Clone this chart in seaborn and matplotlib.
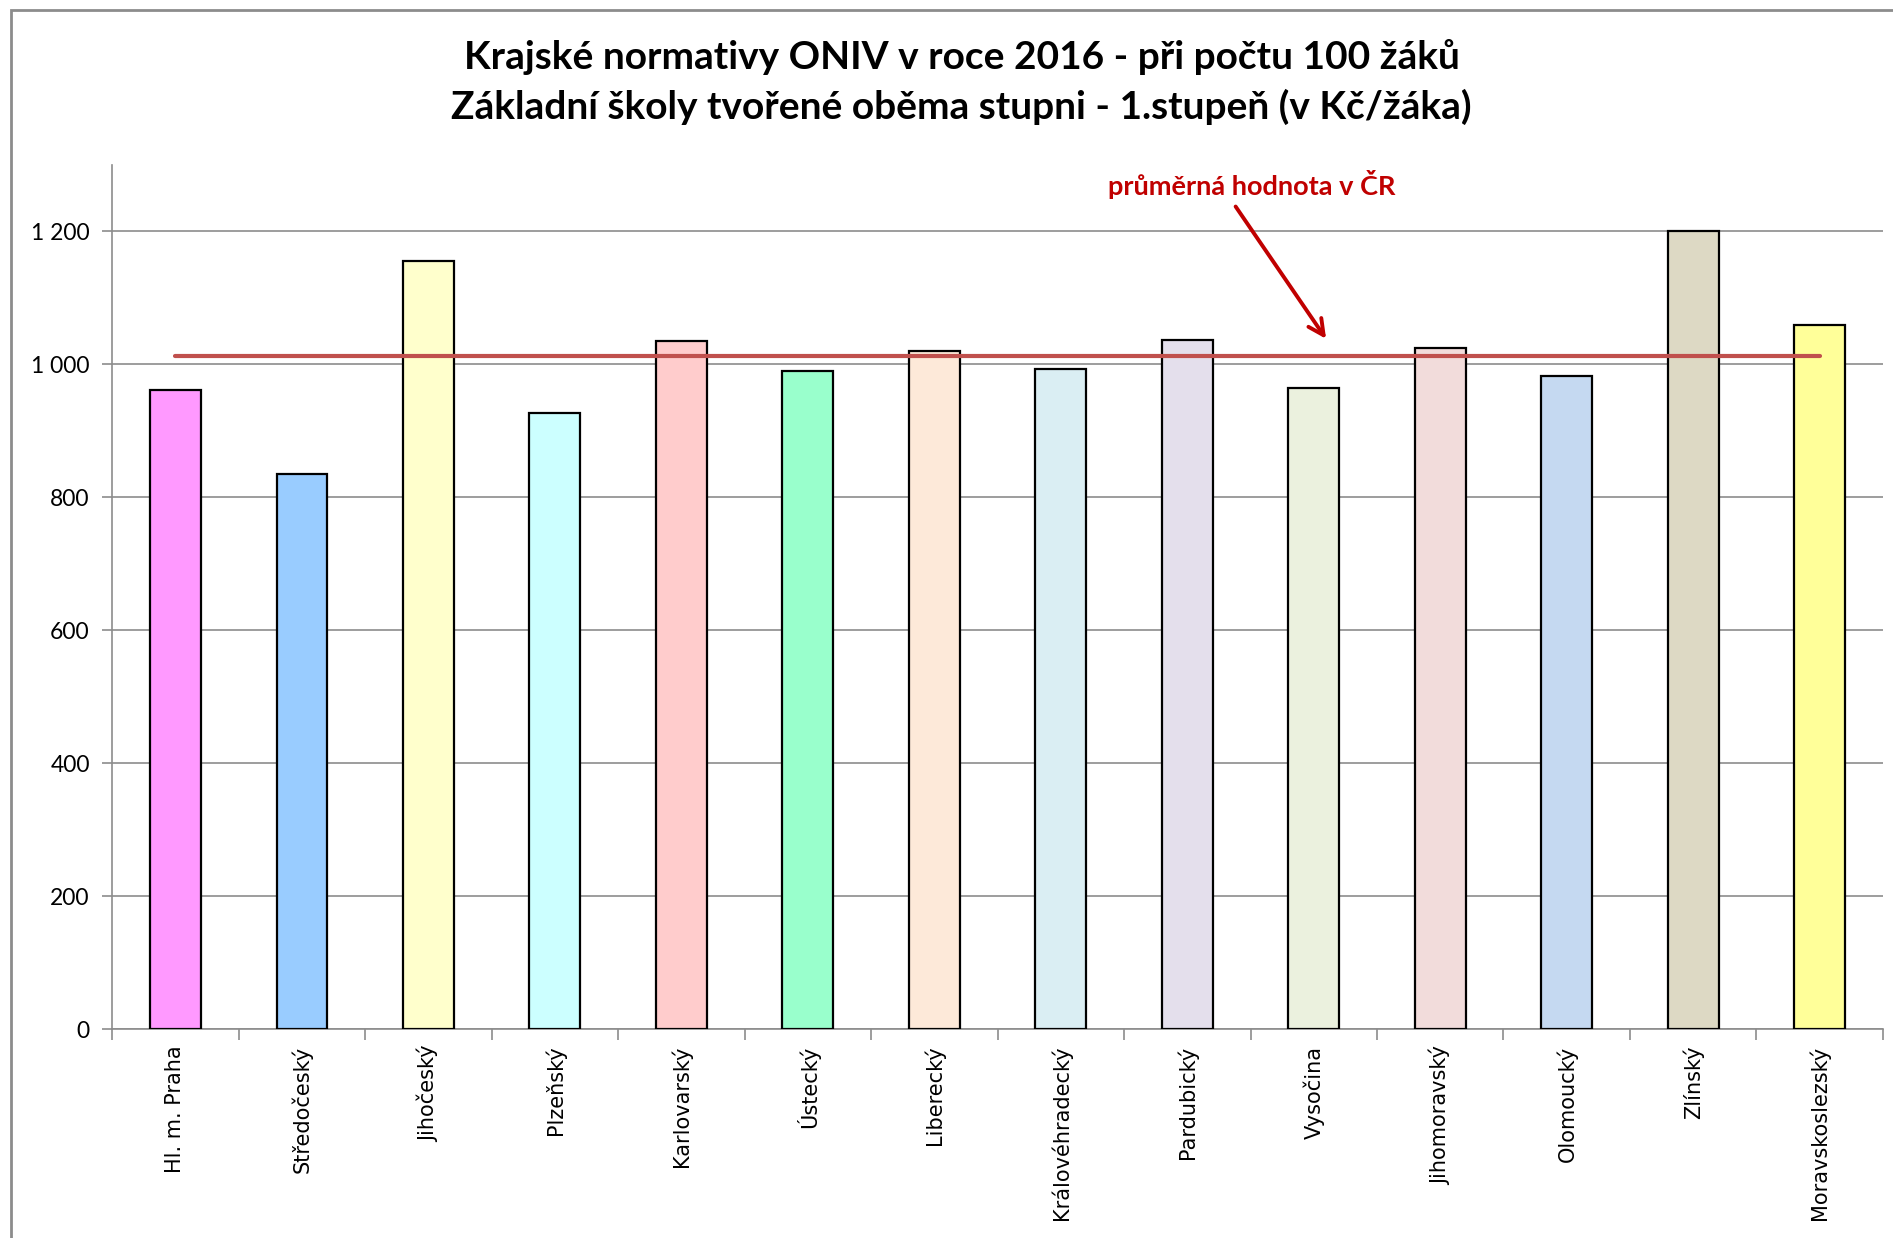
import matplotlib.pyplot as plt
import matplotlib.ticker as mticker
from matplotlib.patches import Rectangle
import seaborn as sns
import pandas as pd

# data
regions = ['Hl. m. Praha', 'Středočeský', 'Jihočeský', 'Plzeňský', 'Karlovarský',
           'Ústecký', 'Liberecký', 'Královéhradecký', 'Pardubický', 'Vysočina',
           'Jihomoravský', 'Olomoucký', 'Zlínský', 'Moravskoslezský']
values = [962, 835, 1155, 927, 1035, 990, 1020, 993, 1037, 965, 1025, 982, 1200, 1060]
bar_colors = ['#FF99FF', '#99CCFF', '#FFFFCC', '#CCFFFF', '#FFCCCC', '#99FFCC', '#FDE9D9',
              '#DAEEF3', '#E4DFEC', '#EBF1DE', '#F2DCDB', '#C5D9F1', '#DDD9C4', '#FFFF99']
average_cr = 1013
y_ticks = [0, 200, 400, 600, 800, 1000, 1200]

title_lines = ['Krajské normativy ONIV v roce 2016 - při počtu 100 žáků',
               'Základní školy tvořené oběma stupni - 1.stupeň (v Kč/žáka)']
note_text = 'průměrná hodnota v ČR'

sns.set_theme(style="white")
plt.rcParams['font.family'] = ['Lato', 'DejaVu Sans']
plt.rcParams['text.color'] = 'black'
plt.rcParams['xtick.color'] = 'black'
plt.rcParams['ytick.color'] = 'black'

df = pd.DataFrame({'kraj': regions, 'normativ': values})

fig = plt.figure(figsize=(18.93, 12.38), dpi=100)
ax = fig.add_axes([0.0592, 0.1688, 0.9355, 0.6979])

sns.barplot(data=df, x='kraj', y='normativ', hue='kraj', palette=bar_colors, saturation=1,
            width=0.4, edgecolor='black', linewidth=1.6, legend=False, ax=ax, zorder=3)

# national average line
ax.plot([0, len(regions) - 1], [average_cr, average_cr], color='#C0504D', lw=3, zorder=4)

ax.set_ylim(0, 1300)
ax.set_xlim(-0.5, len(regions) - 0.5)
ax.set_yticks(y_ticks)
ax.yaxis.set_major_formatter(mticker.FuncFormatter(lambda v, p: f'{int(v):,}'.replace(',', ' ')))
ax.grid(axis='y', color='#8C8C8C', lw=1.2, zorder=0)
ax.set_axisbelow(True)

for s in ['top', 'right']:
    ax.spines[s].set_visible(False)
for s in ['left', 'bottom']:
    ax.spines[s].set_color('#8C8C8C')
    ax.spines[s].set_linewidth(1.2)

ax.set_xlabel('')
ax.set_ylabel('')
ax.tick_params(axis='y', direction='out', length=7, width=1.2, color='#8C8C8C',
               labelcolor='black', labelsize=16.5, pad=9, left=True)

# category labels, ticks between categories
ax.set_xticks(range(len(regions)))
ax.set_xticklabels(regions, rotation=90)
ax.tick_params(axis='x', which='major', length=0, pad=12, labelcolor='black',
               labelsize=15, labelfontfamily='DejaVu Sans')
ax.set_xticks([i - 0.5 for i in range(len(regions) + 1)], minor=True)
ax.tick_params(axis='x', which='minor', direction='out', length=8, width=1.2,
               color='#8C8C8C', bottom=True)

# annotation with arrow
ax.text(8.51, 1271, note_text, color='#C00000', fontsize=19.5, fontweight='bold',
        ha='center', va='center')
ax.annotate('', xy=(9.11, 1035), xytext=(8.37, 1241),
            arrowprops=dict(arrowstyle='->', color='#C00000', lw=2.8, mutation_scale=28))

# titles
fig.text(0.508, 0.954, title_lines[0], ha='center', va='center', fontsize=28,
         fontweight='bold', color='black')
fig.text(0.508, 0.9136, title_lines[1], ha='center', va='center', fontsize=28,
         fontweight='bold', color='black')

# chart area border
fig.patches.append(Rectangle((11 / 1893, -0.05), 1.1, 1 - 10 / 1238 + 0.05,
                             transform=fig.transFigure, fill=False,
                             edgecolor='#8C8C8C', lw=2))

fig.savefig('out.png', dpi=100)
plt.close(fig)
